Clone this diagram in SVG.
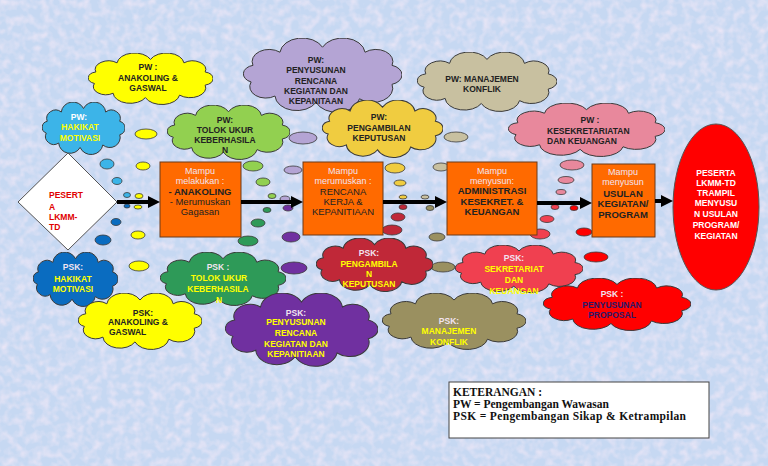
<svg xmlns="http://www.w3.org/2000/svg" xmlns:xlink="http://www.w3.org/1999/xlink" width="768" height="466" viewBox="0 0 768 466">
<defs>
<style>
.t{font-family:"Liberation Sans",Arial,sans-serif;font-weight:bold;font-size:8.5px;text-anchor:middle}
.l{text-anchor:start}
.bx{font-family:"Liberation Sans",Arial,sans-serif;font-size:9.5px;text-anchor:middle}
.bx.lt{font-size:9px}
.b{font-weight:bold}
.dk{fill:#222}
.yl{fill:#ffff00}
.wh{fill:#ffffff}
.lt{fill:#f2e4f0}
.rd{fill:#e00000}
.nv{fill:#2a1a6a}
.bub{stroke:#3a3a3a;stroke-width:0.8}
.box{fill:#ff6a00;stroke:#6b3a1a;stroke-width:1}
.arr{stroke:#000;stroke-width:4;fill:none;marker-end:url(#ah)}
.leg{font-family:"Liberation Serif","Times New Roman",serif;font-weight:bold;font-size:11.5px;fill:#111}
</style>
<symbol id="cloud" viewBox="7 2 86 57" preserveAspectRatio="none">
<path d="M12.4,22.8 A9.2,9.2 0 0 1 27,12.8 A12.1,12.1 0 0 1 50,9 A12.1,12.1 0 0 1 73,12.8 A9.2,9.2 0 0 1 87.6,22.8 A7.5,7.5 0 0 1 87.6,37.2 A10.8,10.8 0 0 1 70,48.2 A12.3,12.3 0 0 1 46.5,50.9 A11.8,11.8 0 0 1 24.3,46.1 A8.7,8.7 0 0 1 11.4,35.4 A6.6,6.6 0 0 1 12.4,22.8 Z" stroke="#3a3a3a" stroke-width="1" vector-effect="non-scaling-stroke"/>
</symbol>
<marker id="ah" markerUnits="userSpaceOnUse" markerWidth="12" markerHeight="12" refX="4" refY="6" orient="auto">
<path d="M0,0 L12,6 L0,12 Z" fill="#000"/>
</marker>
<filter id="noise" x="0" y="0" width="100%" height="100%">
<feTurbulence type="fractalNoise" baseFrequency="0.12" numOctaves="2" seed="5" result="n"/>
<feColorMatrix in="n" type="matrix" values="0 0 0 0 0.96  0 0 0 0 0.84  0 0 0 0 0.94  1.6 0 0 0 -0.6"/>
</filter>
</defs>

<rect x="0" y="0" width="768" height="466" fill="#c6d8f2"/>
<rect x="0" y="0" width="768" height="466" filter="url(#noise)" opacity="0.8"/>

<g id="bubbles" class="bub">
<g fill="#3cb4e8"><ellipse cx="107" cy="164" rx="7" ry="5"/><ellipse cx="117" cy="181" rx="5" ry="3.5"/><ellipse cx="127" cy="195" rx="3.5" ry="2.5"/></g>
<g fill="#ffff00"><ellipse cx="146" cy="134" rx="11" ry="5"/><ellipse cx="143" cy="166" rx="7" ry="4"/><ellipse cx="139" cy="196" rx="4" ry="2.5"/><ellipse cx="138" cy="207" rx="4" ry="2"/><ellipse cx="138" cy="235" rx="7" ry="4"/><ellipse cx="139" cy="266" rx="10" ry="5"/></g>
<g fill="#0a6cc0"><ellipse cx="127" cy="206" rx="3" ry="2"/><ellipse cx="116" cy="222" rx="5" ry="3.5"/><ellipse cx="103" cy="240" rx="8" ry="5"/></g>
<g fill="#92d050"><ellipse cx="253" cy="166" rx="10" ry="5"/><ellipse cx="263" cy="182" rx="7" ry="4"/><ellipse cx="272" cy="196" rx="4" ry="2.5"/></g>
<g fill="#2e9a58"><ellipse cx="267" cy="210" rx="4" ry="2.5"/><ellipse cx="258" cy="223" rx="7" ry="4"/><ellipse cx="248" cy="241" rx="10" ry="5"/></g>
<g fill="#b4a4d4"><ellipse cx="303" cy="138" rx="14" ry="6"/><ellipse cx="293" cy="170" rx="9" ry="4"/><ellipse cx="285" cy="199" rx="5" ry="3"/></g>
<g fill="#7030a0"><ellipse cx="288" cy="208" rx="5" ry="3"/><ellipse cx="291" cy="237" rx="9" ry="5"/><ellipse cx="294" cy="268" rx="13" ry="6"/></g>
<g fill="#f0cc40"><ellipse cx="395" cy="168" rx="10" ry="5"/><ellipse cx="400" cy="183" rx="6" ry="3"/><ellipse cx="403" cy="197" rx="4" ry="2"/></g>
<g fill="#c02838"><ellipse cx="403" cy="207" rx="4" ry="2.5"/><ellipse cx="398" cy="217" rx="7" ry="4"/><ellipse cx="392" cy="230" rx="10" ry="5"/></g>
<g fill="#c8c0a0"><ellipse cx="456" cy="137" rx="12" ry="5"/><ellipse cx="441" cy="167" rx="8" ry="4"/><ellipse cx="425" cy="197" rx="4" ry="2"/></g>
<g fill="#9a9060"><ellipse cx="430" cy="208" rx="4" ry="2.5"/><ellipse cx="437" cy="237" rx="8" ry="4"/><ellipse cx="443" cy="267" rx="12" ry="5"/></g>
<g fill="#e8889c"><ellipse cx="572" cy="165" rx="12" ry="5"/><ellipse cx="566" cy="180" rx="8" ry="3.5"/><ellipse cx="561" cy="192" rx="5" ry="2.5"/></g>
<g fill="#f04050"><ellipse cx="555" cy="207" rx="4" ry="2.5"/><ellipse cx="547" cy="219" rx="7" ry="3.5"/><ellipse cx="540" cy="234" rx="10" ry="5"/></g>
<g fill="#ff0000"><ellipse cx="574" cy="208" rx="4" ry="2.5"/><ellipse cx="584" cy="232" rx="8" ry="4"/><ellipse cx="596" cy="257" rx="12" ry="5"/></g>
</g>

<g id="pw-anakoling">
<use href="#cloud" x="88" y="53" width="125" height="52" fill="#ffff00"/>
<text class="t dk" x="148" y="70">PW :</text>
<text class="t dk" x="148" y="81">ANAKOLING &amp;</text>
<text class="t dk" x="148" y="91">GASWAL</text>
</g>

<g id="pw-hakikat">
<use href="#cloud" x="42" y="102" width="83" height="53" fill="#3cb4e8"/>
<text class="t wh" x="79" y="120">PW:</text>
<text class="t yl" x="80" y="130">HAKIKAT</text>
<text class="t yl" x="80" y="141">MOTIVASI</text>
</g>

<g id="pw-penyusunan">
<use href="#cloud" x="243" y="38" width="159" height="75" fill="#b4a4d4"/>
<text class="t dk" x="316" y="63">PW:</text>
<text class="t dk" x="316" y="73">PENYUSUNAN</text>
<text class="t dk" x="316" y="84">RENCANA</text>
<text class="t dk" x="316" y="94">KEGIATAN DAN</text>
<text class="t dk" x="316" y="104">KEPANITAAN</text>
</g>

<g id="pw-tolok">
<use href="#cloud" x="167" y="105" width="123" height="55" fill="#92d050"/>
<text class="t dk" x="225" y="123">PW:</text>
<text class="t dk" x="225" y="133">TOLOK UKUR</text>
<text class="t dk" x="225" y="143">KEBERHASILA</text>
<text class="t dk" x="225" y="153">N</text>
</g>

<g id="pw-pengambilan">
<use href="#cloud" x="322" y="100" width="121" height="58" fill="#f0cc40"/>
<text class="t dk" x="379" y="120">PW:</text>
<text class="t dk" x="379" y="131">PENGAMBILAN</text>
<text class="t dk" x="379" y="141">KEPUTUSAN</text>
</g>

<g id="pw-manajemen">
<use href="#cloud" x="417" y="52" width="140" height="60" fill="#c8c0a0"/>
<text class="t dk" x="482" y="82">PW: MANAJEMEN</text>
<text class="t dk" x="482" y="92">KONFLIK</text>
</g>

<g id="pw-kesekretariatan">
<use href="#cloud" x="508" y="103" width="157" height="54" fill="#e8889c"/>
<text class="t dk" x="590" y="123">PW :</text>
<text class="t dk l" x="547" y="134">KESEKRETARIATAN</text>
<text class="t dk l" x="547" y="144">DAN KEUANGAN</text>
</g>

<g id="psk-hakikat">
<use href="#cloud" x="33" y="252" width="85" height="55" fill="#0a6cc0"/>
<text class="t lt" x="73" y="270">PSK:</text>
<text class="t yl" x="73" y="282">HAKIKAT</text>
<text class="t yl" x="73" y="292">MOTIVASI</text>
</g>

<g id="psk-anakoling">
<use href="#cloud" x="78" y="293" width="124" height="57" fill="#ffff00"/>
<text class="t dk" x="143" y="316">PSK:</text>
<text class="t dk l" x="108" y="325">ANAKOLING &amp;</text>
<text class="t dk l" x="109" y="335">GASWAL</text>
</g>

<g id="psk-tolok">
<use href="#cloud" x="160" y="252" width="126" height="54" fill="#2e9a58"/>
<text class="t lt" x="218" y="270">PSK :</text>
<text class="t yl" x="219" y="281">TOLOK UKUR</text>
<text class="t yl" x="218" y="292">KEBERHASILA</text>
<text class="t yl" x="219" y="303">N</text>
</g>

<g id="psk-penyusunan">
<use href="#cloud" x="225" y="293" width="153" height="74" fill="#7030a0"/>
<text class="t lt" x="296" y="316">PSK:</text>
<text class="t yl" x="296" y="325">PENYUSUNAN</text>
<text class="t yl" x="296" y="336">RENCANA</text>
<text class="t yl" x="296" y="347">KEGIATAN DAN</text>
<text class="t yl" x="296" y="357">KEPANITIAAN</text>
</g>

<g id="psk-pengambilan">
<use href="#cloud" x="316" y="238" width="117" height="54" fill="#c02838"/>
<text class="t lt" x="369" y="256">PSK:</text>
<text class="t yl" x="369" y="267">PENGAMBILA</text>
<text class="t yl" x="369" y="277">N</text>
<text class="t yl" x="369" y="287">KEPUTUSAN</text>
</g>

<g id="psk-sekretariat">
<use href="#cloud" x="455" y="245" width="128" height="48" fill="#f04050"/>
<text class="t lt" x="514" y="261">PSK:</text>
<text class="t yl" x="514" y="272">SEKRETARIAT</text>
<text class="t yl" x="514" y="283">DAN</text>
<text class="t yl" x="514" y="294">KEUANGAN</text>
</g>

<g id="psk-manajemen">
<use href="#cloud" x="382" y="293" width="144" height="57" fill="#9a9060"/>
<text class="t lt" x="449" y="324">PSK:</text>
<text class="t yl" x="449" y="334">MANAJEMEN</text>
<text class="t yl" x="449" y="345">KONFLIK</text>
</g>

<g id="psk-proposal">
<use href="#cloud" x="543" y="278" width="148" height="53" fill="#ff0000"/>
<text class="t lt" x="612" y="297">PSK :</text>
<text class="t nv" x="612" y="308">PENYUSUNAN</text>
<text class="t nv" x="612" y="318">PROPOSAL</text>
</g>

<g id="peserta-start">
<polygon points="68,153 117,202 68,250 18,202" fill="#ffffff" stroke="#555" stroke-width="1"/>
<text class="t rd l" font-size="10" x="49" y="198">PESERT</text>
<text class="t rd l" font-size="10" x="49" y="210">A</text>
<text class="t rd l" font-size="10" x="49" y="220">LKMM-</text>
<text class="t rd l" font-size="10" x="49" y="230">TD</text>
</g>

<g id="box1">
<rect class="box" x="160" y="162" width="81" height="75"/>
<text class="bx lt" x="200" y="174">Mampu</text>
<text class="bx lt" x="200" y="184">melakukan :</text>
<text class="bx dk b" x="200" y="195">- ANAKOLING</text>
<text class="bx dk" x="200" y="205">- Merumuskan</text>
<text class="bx dk" x="200" y="215">Gagasan</text>
</g>

<g id="box2">
<rect class="box" x="303" y="162" width="80" height="73"/>
<text class="bx lt" x="343" y="174">Mampu</text>
<text class="bx lt" x="343" y="184">merumuskan :</text>
<text class="bx dk" x="343" y="195">RENCANA</text>
<text class="bx dk" x="343" y="205">KERJA &amp;</text>
<text class="bx dk" x="343" y="215">KEPANITIAAN</text>
</g>

<g id="box3">
<rect class="box" x="447" y="162" width="90" height="73"/>
<text class="bx lt" x="492" y="174">Mampu</text>
<text class="bx lt" x="492" y="184">menyusun:</text>
<text class="bx dk b" x="492" y="194">ADMINISTRASI</text>
<text class="bx dk b" x="492" y="205">KESEKRET. &amp;</text>
<text class="bx dk b" x="492" y="215">KEUANGAN</text>
</g>

<g id="box4">
<rect class="box" x="592" y="164" width="63" height="73"/>
<text class="bx lt" x="623" y="175">Mampu</text>
<text class="bx lt" x="623" y="185">menyusun</text>
<text class="bx dk b" x="623" y="197">USULAN</text>
<text class="bx dk b" x="623" y="207">KEGIATAN/</text>
<text class="bx dk b" x="623" y="218">PROGRAM</text>
</g>

<g id="peserta-end">
<ellipse cx="716" cy="207" rx="43" ry="83" fill="#ff0000" stroke="#555" stroke-width="1"/>
<text class="t wh" x="716" y="176">PESERTA</text>
<text class="t wh" x="716" y="186">LKMM-TD</text>
<text class="t wh" x="716" y="196">TRAMPIL</text>
<text class="t wh" x="716" y="206">MENYUSU</text>
<text class="t wh" x="716" y="217">N USULAN</text>
<text class="t wh" x="716" y="228">PROGRAM/</text>
<text class="t wh" x="716" y="239">KEGIATAN</text>
</g>

<g id="connectors">
<line class="arr" x1="117" y1="202" x2="152" y2="202"/>
<line class="arr" x1="241" y1="202" x2="295" y2="202"/>
<line class="arr" x1="383" y1="202" x2="439" y2="202"/>
<line class="arr" x1="537" y1="203" x2="584" y2="203"/>
<line class="arr" x1="655" y1="201" x2="665" y2="201"/>
</g>

<g id="legend">
<rect x="449" y="382" width="260" height="56" fill="#ffffff" stroke="#444" stroke-width="1"/>
<text class="leg" x="453" y="396">KETERANGAN :</text>
<text class="leg" x="453" y="408">PW</text>
<text class="leg" x="474" y="408">= Pengembangan Wawasan</text>
<text class="leg" x="453" y="420" textLength="233" lengthAdjust="spacing">PSK = Pengembangan Sikap &amp; Ketrampilan</text>
</g>
</svg>
